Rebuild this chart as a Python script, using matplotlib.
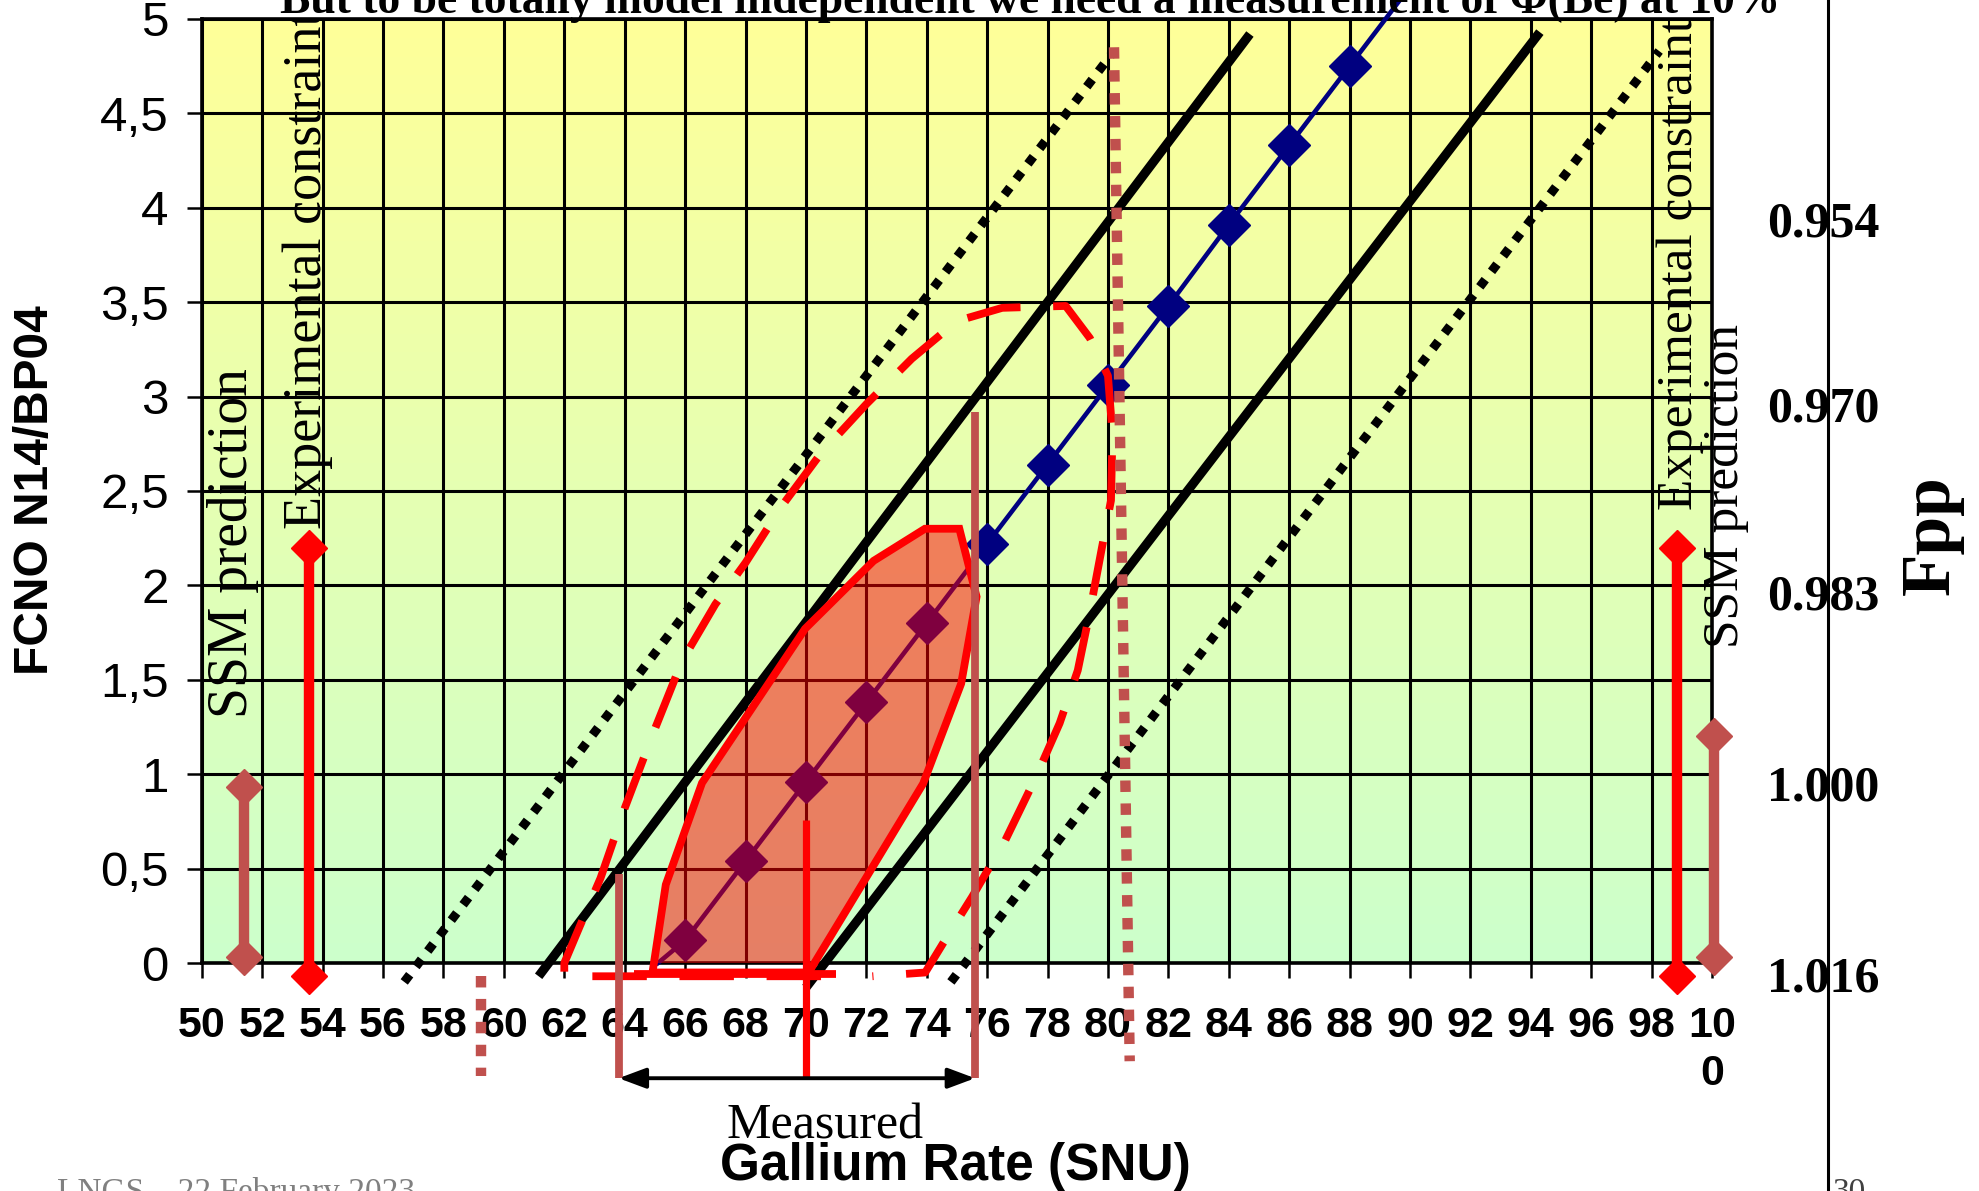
import numpy as np
import matplotlib
matplotlib.use("Agg")
import matplotlib.pyplot as plt
from matplotlib.patches import Polygon
from matplotlib.lines import Line2D

SANS = ["Liberation Sans", "DejaVu Sans"]
SERIF = ["Liberation Serif", "DejaVu Serif"]

# ---- data -------------------------------------------------------------
# FCNO (N14 / BP04) versus gallium rate, navy series
ga_rate = [65.1, 66, 68, 70, 72, 74, 76, 78, 80, 82, 84, 86, 88, 90]
fcno = [0.0, 0.12, 0.54, 0.96, 1.38, 1.80, 2.22, 2.64, 3.06, 3.48, 3.91, 4.33, 4.75, 5.17]

# iso-lines: solid pair and dotted pair (end points)
solid_lo_x, solid_lo_y = [61.15, 84.7], [-0.07, 4.92]
solid_hi_x, solid_hi_y = [70.0, 94.3], [-0.13, 4.93]
dot_lo_x, dot_lo_y = [56.7, 80.15], [-0.10, 4.82]
dot_hi_x, dot_hi_y = [74.8, 98.25], [-0.10, 4.83]

# allowed region (filled)
region_x = [64.92, 65.36, 66.56, 69.97, 72.24, 73.94, 75.08, 75.65, 75.14, 73.88, 70.09]
region_y = [-0.05, 0.415, 0.954, 1.77, 2.13, 2.30, 2.30, 1.94, 1.48, 0.95, -0.05]

# wider contour (dashed)
contour_x = [70.5, 62.0, 62.0, 62.5, 63.2, 64.0, 64.9, 65.9, 67.0, 68.0, 69.2, 70.5,
             72.0, 73.5, 75.0, 76.5, 78.6, 79.4, 80.0, 80.15, 80.1, 79.8, 79.4, 79.0,
             78.4, 77.6, 76.6, 75.5, 74.6, 73.95, 72.2]
contour_y = [-0.07, -0.07, 0.0, 0.19, 0.45, 0.82, 1.20, 1.60, 1.90, 2.12, 2.42, 2.70,
             2.96, 3.20, 3.40, 3.47, 3.48, 3.31, 3.11, 2.80, 2.45, 2.20, 1.86, 1.55,
             1.27, 0.98, 0.65, 0.35, 0.12, -0.05, -0.07]
bottom_seg_x = [64.3, 71.0]
bottom_seg_y = [-0.06, -0.06]

# measured gallium rate band
measured_lo, measured_hi, measured_mid = 63.8, 75.6, 70.0
measured_top_lo, measured_top_hi, measured_top_mid = 0.47, 2.92, 0.76
below_axis = -0.61

# dotted markers of the band
dotted_left_x, dotted_left_y = [59.25, 59.25], [-0.07, -0.60]
dotted_right_x, dotted_right_y = [80.2, 80.72], [4.85, -0.52]

# SSM prediction and experimental constraint bars
ssm_left_x, ssm_left_y = [51.4, 51.4], [0.03, 0.93]
exp_left_x, exp_left_y = [53.55, 53.55], [-0.07, 2.20]
exp_right_x, exp_right_y = [98.85, 98.85], [-0.07, 2.20]
ssm_right_x, ssm_right_y = [100.05, 100.05], [0.03, 1.20]

# axis ticks
x_ticks = list(range(50, 101, 2))
x_tick_labels = [str(v) for v in x_ticks[:-1]] + ["10\n0"]
y_ticks = [0, 0.5, 1, 1.5, 2, 2.5, 3, 3.5, 4, 4.5, 5]
y_tick_labels = ["0", "0,5", "1", "1,5", "2", "2,5", "3", "3,5", "4", "4,5", "5"]
fpp_labels = ["0.954", "0.970", "0.983", "1.000", "1.016"]
fpp_pos = [3.94, 2.96, 1.96, 0.95, -0.06]

RED = "#FF0000"
ROSY = "#C0504D"
NAVY = "#000080"

# ---- figure -----------------------------------------------------------
fig = plt.figure(figsize=(19.79, 11.91), dpi=100)
ax = fig.add_axes([0.1020, 0.1914, 0.7631, 0.7927])

# yellow-to-green background
g = np.linspace(0, 1, 256)[:, None, None]
top_c = np.array([1.0, 1.0, 0.6])
bot_c = np.array([0.8, 1.0, 0.8])
grad = top_c * (1 - g) + bot_c * g
ax.imshow(grad, extent=[0, 1, 0, 1], transform=ax.transAxes, aspect="auto",
          zorder=0, interpolation="bilinear")
ax.set_facecolor("none")

ax.set_xlim(50, 100)
ax.set_ylim(0, 5)
ax.set_xticks(x_ticks)
ax.set_xticklabels(x_tick_labels, fontfamily=SANS, fontweight="bold", fontsize=31,
                   linespacing=1.25)
ax.set_yticks(y_ticks)
ax.set_yticklabels(y_tick_labels, fontfamily=SANS, fontsize=35.5)
ax.tick_params(axis="x", direction="out", length=10.8, width=1.8, pad=20)
ax.tick_params(axis="y", direction="out", length=10.8, width=1.8, pad=13)
ax.set_axisbelow(True)
ax.grid(True, color="black", linewidth=2.2)
for sp in ax.spines.values():
    sp.set_linewidth(2.6)
    sp.set_color("black")

# iso-lines
ax.plot(dot_lo_x, dot_lo_y, color="black", lw=6.5, dashes=(1, 1.15),
        dash_capstyle="butt", zorder=2, clip_on=False)
ax.plot(dot_hi_x, dot_hi_y, color="black", lw=6.5, dashes=(1, 1.15),
        dash_capstyle="butt", zorder=2, clip_on=False)
ax.plot(solid_lo_x, solid_lo_y, color="black", lw=6.6, zorder=2, clip_on=False,
        solid_capstyle="butt")
ax.plot(solid_hi_x, solid_hi_y, color="black", lw=6.6, zorder=2, clip_on=False,
        solid_capstyle="butt")

# navy series
ax.plot(ga_rate, fcno, color=NAVY, lw=3.3, marker="D", markersize=21,
        markevery=list(range(1, len(ga_rate) - 1)), zorder=3, clip_on=False)

# allowed region
ax.add_patch(Polygon(np.column_stack([region_x, region_y]), closed=True,
                     facecolor=(1, 0, 0, 0.5), edgecolor="none", zorder=4))
ax.add_patch(Polygon(np.column_stack([region_x, region_y]), closed=True,
                     facecolor="none", edgecolor=RED, lw=5.6, zorder=5,
                     joinstyle="miter", clip_on=False))

# wider contour
ax.plot(contour_x, contour_y, color=RED, lw=5.6, dashes=(7, 4.2), zorder=5,
        clip_on=False)
ax.plot(bottom_seg_x, bottom_seg_y, color=RED, lw=5.6, zorder=5, clip_on=False,
        solid_capstyle="butt")

# measured band
ax.plot([measured_lo, measured_lo], [measured_top_lo, below_axis], color=ROSY, lw=5.6,
        zorder=6, clip_on=False, solid_capstyle="butt")
ax.plot([measured_hi, measured_hi], [measured_top_hi, below_axis], color=ROSY, lw=5.6,
        zorder=6, clip_on=False, solid_capstyle="butt")
ax.plot([measured_mid, measured_mid], [measured_top_mid, below_axis], color=RED, lw=5.2,
        zorder=6, clip_on=False, solid_capstyle="butt")
ax.annotate("", xy=(measured_lo, below_axis), xytext=(measured_hi, below_axis),
            arrowprops=dict(arrowstyle="<|-|>,head_length=0.75,head_width=0.28",
                            lw=2.8, color="black", shrinkA=0, shrinkB=0,
                            mutation_scale=22),
            annotation_clip=False, zorder=6)
ax.plot(dotted_left_x, dotted_left_y, color=ROSY, lw=7.5, dashes=(1.1, 1.1),
        dash_capstyle="butt", zorder=6, clip_on=False)
ax.plot(dotted_right_x, dotted_right_y, color=ROSY, lw=7.5, dashes=(1.1, 1.1),
        dash_capstyle="butt", zorder=6, clip_on=False)

# prediction / constraint bars
for bx, by, col in [(ssm_left_x, ssm_left_y, ROSY), (exp_left_x, exp_left_y, RED),
                    (exp_right_x, exp_right_y, RED), (ssm_right_x, ssm_right_y, ROSY)]:
    ax.plot(bx, by, color=col, lw=7.5, marker="D", markersize=18, zorder=7,
            clip_on=False, solid_capstyle="butt")

# vertical annotations
ax.text(51.03, 1.30, "SSM prediction", rotation=90, rotation_mode="anchor",
        ha="left", va="center", fontfamily=SERIF, fontsize=40, zorder=8)
ax.text(53.5, 2.30, "Experimental constraint", rotation=90, rotation_mode="anchor",
        ha="left", va="center", fontfamily=SERIF, fontsize=39, zorder=8, clip_on=True)
ax.text(98.94, 2.40, "Experimental constraint", rotation=90, rotation_mode="anchor",
        ha="left", va="center", fontfamily=SERIF, fontsize=37, zorder=8)
ax.text(100.45, 1.67, "SSM prediction", rotation=90, rotation_mode="anchor",
        ha="left", va="center", fontfamily=SERIF, fontsize=37, zorder=8)

ax.text(70.65, -0.93, "Measured", ha="center", va="baseline", fontfamily=SERIF,
        fontsize=36, clip_on=False)

# axis titles
fig.text(0.0177, 0.5886, "FCNO N14/BP04", rotation=90, ha="center", va="center",
         fontfamily=SANS, fontweight="bold", fontsize=34.5)
fig.text(0.4826, 0.0092, "Gallium Rate (SNU)", ha="center", va="baseline",
         fontfamily=SANS, fontweight="bold", fontsize=37)

# Fpp scale
fig.add_artist(Line2D([0.9237, 0.9237], [0, 1], color="black", lw=2.2))
ytr = ax.get_yaxis_transform()
for lab, pos in zip(fpp_labels, fpp_pos):
    ax.text(1.0735, pos - 0.09, lab, transform=ytr, ha="center", va="baseline",
            fontfamily=SERIF, fontweight="bold", fontsize=36, clip_on=False)
fig.text(0.976, 0.551, "Fpp", rotation=90, ha="center", va="center",
         fontfamily=SERIF, fontweight="bold", fontsize=50)

# headline
fig.text(0.5205, 0.989, "But to be totally model independent we need a measurement of \u03a6(Be) at 10%",
         ha="center", va="baseline", fontfamily=SERIF, fontweight="bold", fontsize=32.8)

# footer
fig.text(0.0288, -0.0084, "LNGS \u2013 22 February 2023", ha="left", va="baseline",
         fontfamily=SERIF, fontsize=24, color="#808080")
fig.text(0.9257, -0.0084, "30", ha="left", va="baseline", fontfamily=SERIF,
         fontsize=24, color="#404040")

fig.savefig("out.png", dpi=100)
